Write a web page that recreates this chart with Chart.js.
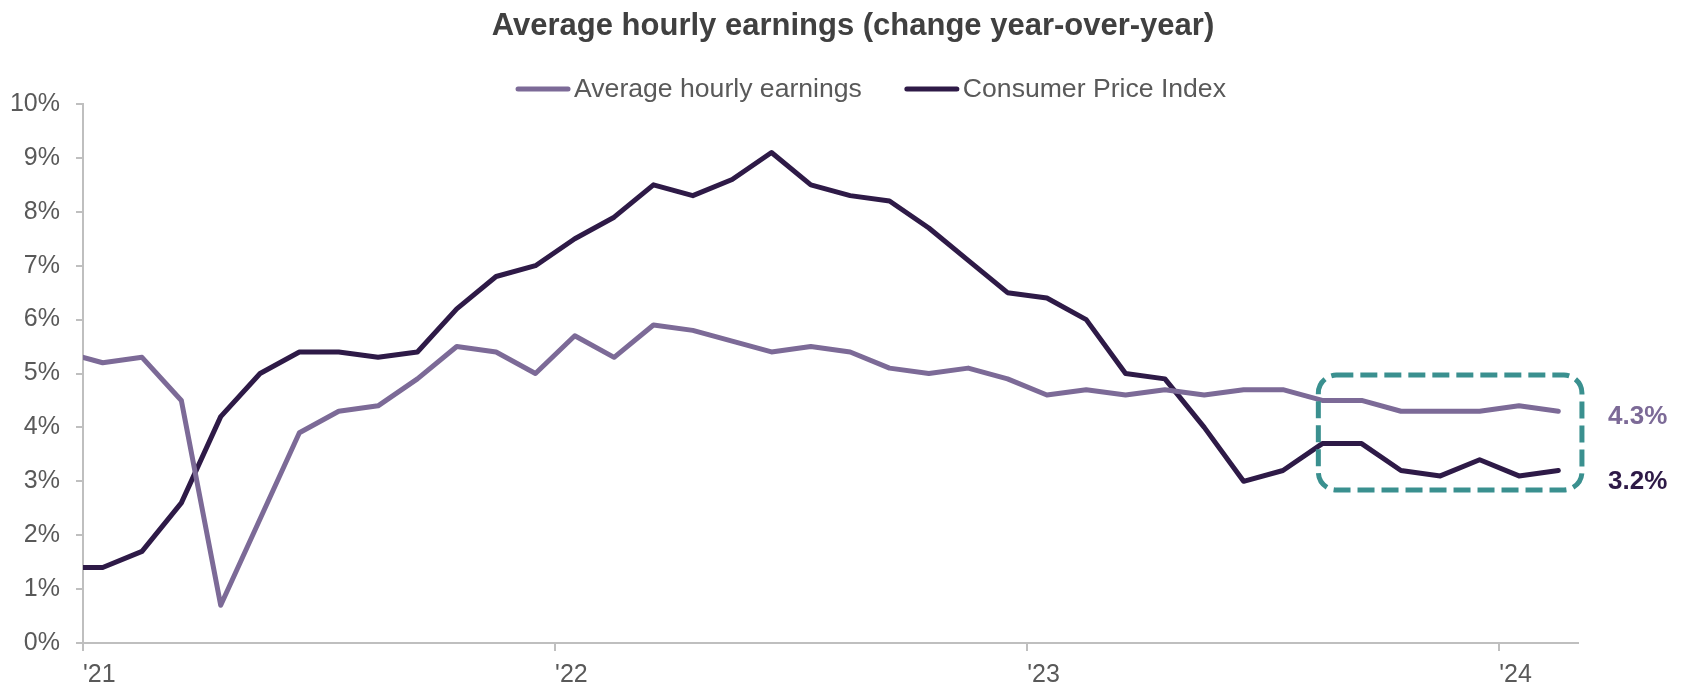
<!DOCTYPE html>
<html>
<head>
<meta charset="utf-8">
<title>Average hourly earnings</title>
<script src="https://cdn.jsdelivr.net/npm/chart.js@4.4.1/dist/chart.umd.min.js"></script>
<style>
  html, body { margin: 0; padding: 0; background: #fff; }
  #wrap { width: 1683px; height: 688px; }
</style>
</head>
<body>
<div id="wrap"><canvas id="grafico" width="1683" height="688"></canvas></div>
<script>
// monthly readings, Dec 2020 to Feb 2024 (year-over-year %)
const months = [
  '2020-12',
  '2021-01', '2021-02', '2021-03', '2021-04', '2021-05', '2021-06',
  '2021-07', '2021-08', '2021-09', '2021-10', '2021-11', '2021-12',
  '2022-01', '2022-02', '2022-03', '2022-04', '2022-05', '2022-06',
  '2022-07', '2022-08', '2022-09', '2022-10', '2022-11', '2022-12',
  '2023-01', '2023-02', '2023-03', '2023-04', '2023-05', '2023-06',
  '2023-07', '2023-08', '2023-09', '2023-10', '2023-11', '2023-12',
  '2024-01', '2024-02'
];
const earnings = [
  5.4,
  5.2, 5.3, 4.5, 0.7, 2.3, 3.9, 4.3, 4.4, 4.9, 5.5, 5.4, 5.0,
  5.7, 5.3, 5.9, 5.8, 5.6, 5.4, 5.5, 5.4, 5.1, 5.0, 5.1, 4.9,
  4.6, 4.7, 4.6, 4.7, 4.6, 4.7, 4.7, 4.5, 4.5, 4.3, 4.3, 4.3,
  4.4, 4.3
];
const cpi = [
  1.4,
  1.4, 1.7, 2.6, 4.2, 5.0, 5.4, 5.4, 5.3, 5.4, 6.2, 6.8, 7.0,
  7.5, 7.9, 8.5, 8.3, 8.6, 9.1, 8.5, 8.3, 8.2, 7.7, 7.1, 6.5,
  6.4, 6.0, 5.0, 4.9, 4.0, 3.0, 3.2, 3.7, 3.7, 3.2, 3.1, 3.4,
  3.1, 3.2
];
const yearLabels = ["'21", "'22", "'23", "'24"];
const yearTicks = [0, 12, 24, 36];   // months since Jan 2021

// dashed box around the last months (in axis units)
const highlight = { xMin: 31.4, xMax: 38.1, yMin: 2.84, yMax: 4.97 };

const titleText = 'Average hourly earnings (change year-over-year)';
const fontFamily = '"Liberation Sans", Arial, sans-serif';

// each point sits in the middle of its month
function toPoints(values) {
  return values.map((v, i) => {
    const [yy, mm] = months[i].split('-').map(Number);
    return { x: (yy - 2021) * 12 + (mm - 1) + 0.5, y: v };
  });
}

const extras = {
  id: 'extras',
  afterDatasetsDraw(chart) {
    const ctx = chart.ctx;
    const sx = chart.scales.x, sy = chart.scales.y;

    // rounded dashed box
    const left = sx.getPixelForValue(highlight.xMin);
    const right = sx.getPixelForValue(highlight.xMax);
    const top = sy.getPixelForValue(highlight.yMax);
    const bottom = sy.getPixelForValue(highlight.yMin);
    ctx.save();
    ctx.strokeStyle = '#3a908f';
    ctx.lineWidth = 5;
    ctx.setLineDash([17, 7]);
    ctx.beginPath();
    ctx.roundRect(left, top, right - left, bottom - top, 18);
    ctx.stroke();
    ctx.restore();

    // last value next to each line
    ctx.save();
    ctx.font = 'bold 26px ' + fontFamily;
    ctx.textAlign = 'left';
    ctx.textBaseline = 'middle';
    chart.data.datasets.forEach(ds => {
      const last = ds.data[ds.data.length - 1];
      ctx.fillStyle = ds.borderColor;
      ctx.fillText(last.y.toFixed(1) + '%', chart.chartArea.right + 30,
        sy.getPixelForValue(last.y) + ds.labelNudge);
    });
    ctx.restore();
  },
  afterDraw(chart) {
    const ctx = chart.ctx;
    ctx.save();
    // title
    ctx.font = 'bold 31px ' + fontFamily;
    ctx.fillStyle = '#404040';
    ctx.textAlign = 'center';
    ctx.textBaseline = 'middle';
    ctx.fillText(titleText, 853, 26);

    // legend: short line then label, side by side
    ctx.font = '26.6px ' + fontFamily;
    ctx.textAlign = 'left';
    const lineLen = 54, gap = 4, itemGap = 43;
    const items = chart.data.datasets;
    let total = 0;
    items.forEach((ds, i) => {
      total += lineLen + gap + ctx.measureText(ds.label).width + (i ? itemGap : 0);
    });
    let lx = 871 - total / 2;
    const ly = 89;
    items.forEach(ds => {
      ctx.strokeStyle = ds.borderColor;
      ctx.lineWidth = 5;
      ctx.lineCap = 'round';
      ctx.beginPath();
      ctx.moveTo(lx + 2, ly);
      ctx.lineTo(lx + lineLen - 2, ly);
      ctx.stroke();
      ctx.fillStyle = '#595959';
      ctx.fillText(ds.label, lx + lineLen + gap, ly + 1);
      lx += lineLen + gap + ctx.measureText(ds.label).width + itemGap;
    });
    ctx.restore();
  }
};

const canvas = document.getElementById('grafico');

const config = {
  type: 'line',
  data: {
    datasets: [
      {
        label: 'Average hourly earnings',
        data: toPoints(earnings),
        borderColor: '#7c6a97',
        borderWidth: 5,
        pointRadius: 0,
        tension: 0,
        borderJoinStyle: 'round',
        borderCapStyle: 'round',
        labelNudge: 6
      },
      {
        label: 'Consumer Price Index',
        data: toPoints(cpi),
        borderColor: '#2e1a47',
        borderWidth: 5,
        pointRadius: 0,
        tension: 0,
        borderJoinStyle: 'round',
        borderCapStyle: 'round',
        labelNudge: 11
      }
    ]
  },
  options: {
    responsive: false,
    animation: false,
    devicePixelRatio: 1,
    layout: { padding: { top: 104, right: 105, left: 0, bottom: 0 } },
    plugins: {
      legend: { display: false },
      title: { display: false },
      tooltip: { enabled: false }
    },
    scales: {
      x: {
        type: 'linear',
        min: 0,
        max: 38,
        afterBuildTicks: (scale) => {
          scale.ticks = yearTicks.map(v => ({ value: v }));
        },
        afterFit: (scale) => { scale.height = 45; },
        ticks: {
          align: 'start',
          padding: 9,
          color: '#595959',
          font: { family: fontFamily, size: 25 },
          maxRotation: 0,
          autoSkip: false,
          callback: (value) => yearLabels[yearTicks.indexOf(value)]
        },
        grid: {
          drawOnChartArea: false,
          drawTicks: true,
          tickLength: 8,
          color: '#bfbfbf',
          lineWidth: 2
        },
        border: { display: true, color: '#bfbfbf', width: 2 }
      },
      y: {
        min: 0,
        max: 10,
        afterFit: (scale) => { scale.width = 83; },
        ticks: {
          stepSize: 1,
          padding: 16,
          color: '#595959',
          font: { family: fontFamily, size: 25 },
          callback: (value) => value + '%'
        },
        grid: {
          drawOnChartArea: false,
          drawTicks: true,
          tickLength: 7,
          color: '#bfbfbf',
          lineWidth: 2
        },
        border: { display: true, color: '#bfbfbf', width: 2 }
      }
    }
  },
  plugins: [extras]
};

const miGrafico = new Chart(canvas, config);
</script>
</body>
</html>
